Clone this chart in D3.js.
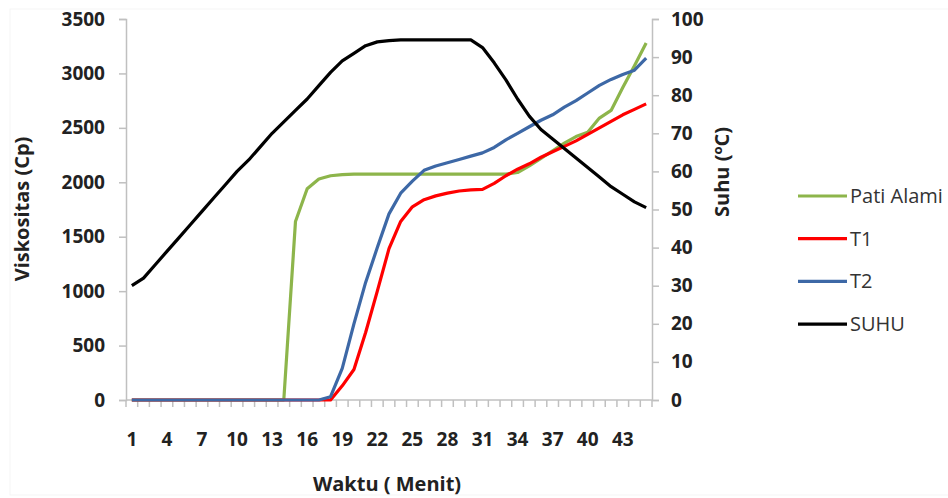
<!DOCTYPE html>
<html>
<head>
<meta charset="utf-8">
<script src="https://cdn.jsdelivr.net/npm/d3@7"></script>
<style>
  body { margin: 0; background: #fff; }
  svg { display: block; }
</style>
</head>
<body>
<svg width="948" height="498"></svg>
<script>
const svg = d3.select("svg");

// Minutes 1..45
const waktu = d3.range(1, 46);

const patiAlami = [0, 0, 0, 0, 0, 0, 0, 0, 0, 0, 0, 0, 0, 0, 1640, 1940, 2030, 2060, 2070,
  2075, 2075, 2075, 2075, 2075, 2075, 2075, 2075, 2075, 2075, 2075, 2075, 2075, 2075, 2090,
  2150, 2220, 2290, 2360, 2420, 2460, 2590, 2660, 2870, 3070, 3280];
const t1 = [0, 0, 0, 0, 0, 0, 0, 0, 0, 0, 0, 0, 0, 0, 0, 0, 0, 0, 130, 280, 620, 1000, 1390,
  1640, 1775, 1840, 1875, 1900, 1920, 1930, 1935, 1990, 2060, 2120, 2170, 2230, 2280, 2330,
  2380, 2440, 2500, 2560, 2620, 2670, 2720];
const t2 = [0, 0, 0, 0, 0, 0, 0, 0, 0, 0, 0, 0, 0, 0, 0, 0, 0, 30, 290, 700, 1080, 1400, 1710,
  1900, 2010, 2110, 2150, 2180, 2210, 2240, 2270, 2320, 2390, 2450, 2510, 2570, 2620, 2690,
  2750, 2820, 2890, 2945, 2990, 3030, 3140];
const suhu = [30, 32, 35.5, 39, 42.5, 46, 49.5, 53, 56.5, 60, 63, 66.5, 70, 73, 76, 79, 82.5,
  86, 89, 91, 93, 94, 94.3, 94.5, 94.5, 94.5, 94.5, 94.5, 94.5, 94.5, 92.5, 88.5, 84, 79,
  74.5, 71, 68.5, 66, 63.5, 61, 58.5, 56, 54, 52, 50.5];

const leftTicks = d3.range(0, 3501, 500);
const rightTicks = d3.range(0, 101, 10);

const series = [
  { name: "Pati Alami", values: patiAlami, color: "#8db54b", axis: "left" },
  { name: "T1", values: t1, color: "#ff0000", axis: "left" },
  { name: "T2", values: t2, color: "#3d68a6", axis: "left" },
  { name: "SUHU", values: suhu, color: "#000000", axis: "right" }
];

const plot = { left: 126, right: 652, top: 19, bottom: 400 };
const axisColor = "#c0c0c0";
const font = "'Open Sans', 'Liberation Sans', sans-serif";

const x = d3.scaleBand().domain(waktu).range([plot.left, plot.right]).padding(0);
const yL = d3.scaleLinear().domain([0, 3500]).range([plot.bottom, plot.top]);
const yR = d3.scaleLinear().domain([0, 100]).range([plot.bottom, plot.top]);

// faint chart border
svg.append("rect")
  .attr("x", 10).attr("y", 9).attr("width", 940).attr("height", 486)
  .attr("fill", "none").attr("stroke", "#f5f5f5");

// Left axis
const gL = svg.append("g").attr("transform", `translate(${plot.left},0)`)
  .call(d3.axisLeft(yL).tickValues(leftTicks).tickFormat(d3.format("d"))
    .tickSize(7).tickPadding(14));
// Right axis
const gR = svg.append("g").attr("transform", `translate(${plot.right},0)`)
  .call(d3.axisRight(yR).tickValues(rightTicks).tickSize(7).tickPadding(12));

[gL, gR].forEach(g => {
  g.select(".domain").attr("stroke", axisColor).attr("stroke-width", 1.5);
  g.selectAll(".tick line").attr("stroke", axisColor).attr("stroke-width", 1.5);
  g.selectAll(".tick text")
    .attr("font-family", font).attr("font-size", 19).attr("font-weight", "bold")
    .attr("fill", "#222");
});

// X axis: line with ticks between categories
const gX = svg.append("g");
gX.append("line")
  .attr("x1", plot.left).attr("x2", plot.right)
  .attr("y1", plot.bottom).attr("y2", plot.bottom)
  .attr("stroke", axisColor).attr("stroke-width", 1.5);
gX.selectAll(".xt")
  .data(waktu.concat([waktu.length + 1]))
  .join("line")
  .attr("class", "xt")
  .attr("x1", d => plot.left + (d - 1) * x.bandwidth())
  .attr("x2", d => plot.left + (d - 1) * x.bandwidth())
  .attr("y1", plot.bottom).attr("y2", plot.bottom + 7)
  .attr("stroke", axisColor).attr("stroke-width", 1.5);
gX.selectAll(".xl")
  .data(waktu.filter(d => (d - 1) % 3 === 0))
  .join("text")
  .attr("class", "xl")
  .attr("x", d => x(d) + x.bandwidth() / 2)
  .attr("y", 446)
  .attr("text-anchor", "middle")
  .attr("font-family", font).attr("font-size", 19).attr("font-weight", "bold")
  .attr("fill", "#222")
  .text(d => d);

// Axis titles
svg.append("text")
  .attr("transform", "translate(29,209) rotate(-90)")
  .attr("text-anchor", "middle")
  .attr("font-family", font).attr("font-size", 20).attr("font-weight", "bold")
  .attr("fill", "#222")
  .text("Viskositas (Cp)");

const rt = svg.append("text")
  .attr("transform", "translate(729,172) rotate(-90)")
  .attr("text-anchor", "middle")
  .attr("font-family", font).attr("font-size", 20).attr("font-weight", "bold")
  .attr("fill", "#222");
rt.append("tspan").text("Suhu (");
rt.append("tspan").attr("font-size", 13).attr("dy", -7).text("o");
rt.append("tspan").attr("dy", 7).text("C)");

svg.append("text")
  .attr("x", 387).attr("y", 491)
  .attr("text-anchor", "middle")
  .attr("font-family", font).attr("font-size", 20).attr("font-weight", "bold")
  .attr("fill", "#222")
  .text("Waktu ( Menit)");

// Lines
series.forEach(s => {
  const y = s.axis === "left" ? yL : yR;
  const line = d3.line()
    .x((d, i) => x(waktu[i]) + x.bandwidth() / 2)
    .y(d => y(d));
  svg.append("path")
    .datum(s.values)
    .attr("d", line)
    .attr("fill", "none")
    .attr("stroke", s.color)
    .attr("stroke-width", 3.2)
    .attr("stroke-linejoin", "round");
});

// Legend
const legend = svg.append("g").attr("transform", "translate(798,196)");
const item = legend.selectAll("g")
  .data(series)
  .join("g")
  .attr("transform", (d, i) => `translate(0,${i * 42.7})`);
item.append("line")
  .attr("x1", 0).attr("x2", 49)
  .attr("stroke", d => d.color).attr("stroke-width", 3.2);
item.append("text")
  .attr("x", 52).attr("y", 7)
  .attr("font-family", font).attr("font-size", 20)
  .attr("fill", "#333")
  .text(d => d.name);
</script>
</body>
</html>
